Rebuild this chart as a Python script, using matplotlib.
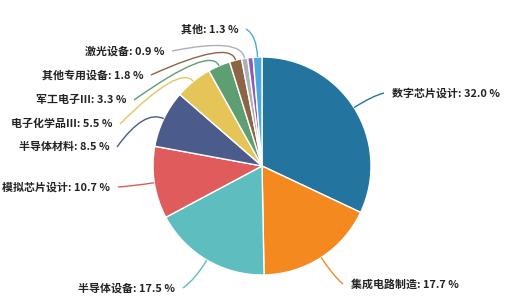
import numpy as np
import matplotlib.pyplot as plt
from matplotlib.path import Path
from matplotlib.patches import PathPatch

plt.rcParams['font.family'] = ['Noto Sans CJK SC', 'DejaVu Sans']

# data, clockwise from 12 o'clock
names = ['数字芯片设计', '集成电路制造', '半导体设备', '模拟芯片设计', '半导体材料',
         '电子化学品Ⅲ', '军工电子Ⅲ', '其他专用设备', '激光设备', '', '其他']
values = [32.0, 17.7, 17.5, 10.7, 8.5, 5.5, 3.3, 1.8, 0.9, 0.8, 1.3]
colors = ['#23759f', '#f48a1f', '#5dbdbf', '#e05c5c', '#4a5b8c', '#e6c558',
          '#5d9e72', '#8d6446', '#a9b1b9', '#8e5cb6', '#4ea9de']

# label anchor points in pixels (end of leader line), and side
W, H = 507, 305
cx, cy, R = 262, 166, 109
label_px = [(384, 93, 'l'), (343, 284, 'l'), (183, 288, 'r'), (118, 187, 'r'),
            (117, 147, 'r'), (120, 124, 'r'), (134, 100, 'r'), (151, 75, 'r'),
            (172, 51, 'r'), None, (246, 29, 'r')]

fig = plt.figure(figsize=(W / 100, H / 100), dpi=100)
ax = fig.add_axes([0, 0, 1, 1])

wedges, _ = ax.pie(values, colors=colors, startangle=90, counterclock=False,
                   radius=1.0, wedgeprops=dict(edgecolor='white', linewidth=1))

ax.set_xlim(-cx / R, (W - cx) / R)
ax.set_ylim(-(H - cy) / R, cy / R)
ax.set_aspect('equal')
ax.axis('off')

total = sum(values)
start = 90.0
for name, v, col, lab in zip(names, values, colors, label_px):
    span = 360.0 * v / total
    mid = np.deg2rad(start - span / 2)
    start -= span
    if lab is None:
        continue
    px, py, side = lab
    ex, ey = (px - cx) / R, (cy - py) / R
    p0 = (np.cos(mid), np.sin(mid))
    p1 = (1.2 * np.cos(mid), 1.2 * np.sin(mid))
    path = Path([p0, p1, (ex, ey)], [Path.MOVETO, Path.CURVE3, Path.CURVE3])
    ax.add_patch(PathPatch(path, fill=False, edgecolor=col, lw=1))
    tx = ex + (0.07 if side == 'l' else -0.07)
    ax.text(tx, ey, f'{name}: {v:.1f} %', fontsize=7.9, fontweight='bold',
            color='#222222', ha='left' if side == 'l' else 'right', va='center')

fig.savefig('out.png', dpi=100)
